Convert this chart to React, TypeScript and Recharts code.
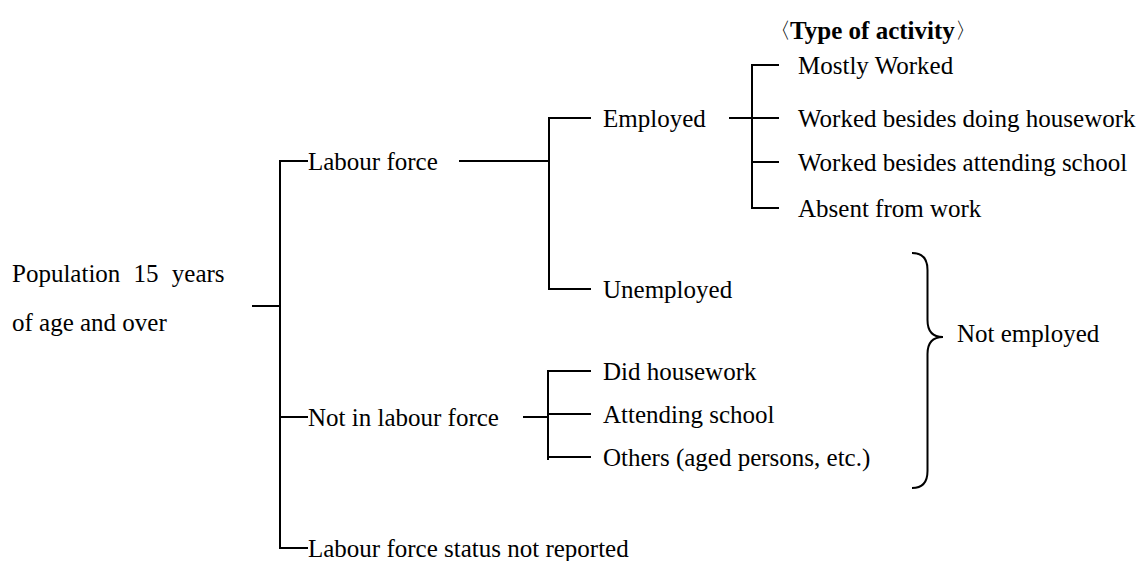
import { ScatterChart, Scatter, XAxis, YAxis, ReferenceLine } from 'recharts'

// labels
const ROOT_LINES = ['Population 15 years', 'of age and over']
const LEVEL1 = ['Labour force', 'Not in labour force', 'Labour force status not reported']
const LABOUR = ['Employed', 'Unemployed']
const NOT_LABOUR = ['Did housework', 'Attending school', 'Others (aged persons, etc.)']
const ACTIVITY = ['Mostly Worked', 'Worked besides doing housework', 'Worked besides attending school', 'Absent from work']
const ACTIVITY_TITLE = ['〈', 'Type of activity', '〉']
const NOT_EMPLOYED = 'Not employed'

// row positions (diagram units, top = 0)
const ROOT_ROWS = [273, 322]
const ROOT_JOIN = 306
const LEVEL1_ROWS = [161, 417, 548]
const LABOUR_ROWS = [118, 289]
const NOT_LABOUR_ROWS = [371, 414, 457]
const ACTIVITY_ROWS = [65, 118, 162, 208]
const TITLE_ROW = 30
const BRACE_ROWS = [253, 337, 488]

// column positions (diagram units, left = 0)
const COL = {
    rootText: 12,
    rootStub: 253,
    l1Bar: 280,
    l1Text: 308,
    labourJoin: 460,
    notLabourJoin: 524,
    l2Bar: 549,
    l2Stub: 590,
    l2Text: 603,
    employedJoin: 730,
    l3Bar: 752,
    l3Stub: 778,
    l3Text: 798,
    title: 790,
    braceEdge: 912,
    braceTip: 943,
    braceText: 957,
}

const W = 1147
const H = 561
const FONT = "'Liberation Serif', 'Times New Roman', serif"

type Pt = { x: number; y: number }
type Seg = [Pt, Pt]

const seg = (x1: number, y1: number, x2: number, y2: number): Seg => [{ x: x1, y: y1 }, { x: x2, y: y2 }]

const segments: Seg[] = [
    seg(COL.rootStub, ROOT_JOIN, COL.l1Bar, ROOT_JOIN),
    seg(COL.l1Bar, LEVEL1_ROWS[0], COL.l1Bar, LEVEL1_ROWS[2]),
    ...LEVEL1_ROWS.map(y => seg(COL.l1Bar, y, COL.l1Text - 1, y)),
    // labour force branch
    seg(COL.labourJoin, LEVEL1_ROWS[0], COL.l2Bar, LEVEL1_ROWS[0]),
    seg(COL.l2Bar, LABOUR_ROWS[0], COL.l2Bar, LABOUR_ROWS[1]),
    ...LABOUR_ROWS.map(y => seg(COL.l2Bar, y, COL.l2Stub, y)),
    // employed -> type of activity
    seg(COL.employedJoin, LABOUR_ROWS[0], COL.l3Bar, LABOUR_ROWS[0]),
    seg(COL.l3Bar, ACTIVITY_ROWS[0], COL.l3Bar, ACTIVITY_ROWS[3]),
    ...ACTIVITY_ROWS.map(y => seg(COL.l3Bar, y, COL.l3Stub, y)),
    // not in labour force branch
    seg(COL.notLabourJoin, LEVEL1_ROWS[1], COL.l2Bar - 1, LEVEL1_ROWS[1]),
    seg(COL.l2Bar - 1, NOT_LABOUR_ROWS[0], COL.l2Bar - 1, NOT_LABOUR_ROWS[2] + 2),
    ...NOT_LABOUR_ROWS.map(y => seg(COL.l2Bar - 1, y, COL.l2Stub, y)),
]

type Label = { x: number; y: number; label: string }

const labels: Label[] = [
    ...ROOT_LINES.map((label, i) => ({ x: COL.rootText, y: ROOT_ROWS[i], label })),
    ...LEVEL1.map((label, i) => ({ x: COL.l1Text, y: LEVEL1_ROWS[i], label })),
    ...LABOUR.map((label, i) => ({ x: COL.l2Text, y: LABOUR_ROWS[i], label })),
    ...NOT_LABOUR.map((label, i) => ({ x: COL.l2Text, y: NOT_LABOUR_ROWS[i], label })),
    ...ACTIVITY.map((label, i) => ({ x: COL.l3Text, y: ACTIVITY_ROWS[i], label })),
    { x: COL.braceText, y: BRACE_ROWS[1] - 4, label: NOT_EMPLOYED },
]

const titleData = [{ x: COL.title, y: TITLE_ROW }]

const braceData = [
    { x: COL.braceEdge, y: BRACE_ROWS[0] },
    { x: COL.braceTip, y: BRACE_ROWS[1] },
    { x: COL.braceEdge, y: BRACE_ROWS[2] },
]

const TextShape = (props: any) => {
    const { cx, cy, payload } = props
    const isRoot = payload.label === ROOT_LINES[0]
    return (
        <text
            x={cx}
            y={cy}
            dominantBaseline="central"
            fontSize={25}
            fill="#000"
            style={{ fontFamily: FONT, wordSpacing: isRoot ? 7 : 0 }}
        >
            {payload.label}
        </text>
    )
}

// bold heading; the CJK angle brackets sit half an em off their box
const TitleShape = (props: any) => {
    const { cx, cy } = props
    return (
        <text x={cx} y={cy} dominantBaseline="central" fontSize={25} fontWeight="bold" fill="#000" style={{ fontFamily: FONT }}>
            <tspan x={cx - 21} fontWeight="normal" fontSize={22}>{ACTIVITY_TITLE[0]}</tspan>
            <tspan x={cx}>{ACTIVITY_TITLE[1]}</tspan>
            <tspan fontWeight="normal" fontSize={22}>{ACTIVITY_TITLE[2]}</tspan>
        </text>
    )
}

const NoDot = () => <g />

// curly brace drawn from its top end, tip and bottom end
const BraceLine = (props: any) => {
    const pts = props.points as Pt[]
    if (!pts || pts.length < 3) return null
    const [top, tip, bottom] = pts
    const mid = (top.x + tip.x) / 2
    const r = 17
    const d = [
        `M${top.x},${top.y}`,
        `Q${mid},${top.y} ${mid},${top.y + r}`,
        `L${mid},${tip.y - r}`,
        `Q${mid},${tip.y} ${tip.x},${tip.y}`,
        `Q${mid},${tip.y} ${mid},${tip.y + r}`,
        `L${mid},${bottom.y - r}`,
        `Q${mid},${bottom.y} ${bottom.x},${bottom.y}`,
    ].join(' ')
    return <path d={d} fill="none" stroke="#000" strokeWidth={2} />
}

export default function App() {
    return (
        <div style={{ position: 'absolute', left: 0, top: 0, width: W, height: H, background: '#fff' }}>
            <ScatterChart width={W} height={H} margin={{ top: 0, right: 0, bottom: 0, left: 0 }}>
                <XAxis type="number" dataKey="x" domain={[0, W]} hide />
                <YAxis type="number" dataKey="y" domain={[0, H]} reversed hide />
                {segments.map((s, i) => (
                    <ReferenceLine key={`seg-${i}`} segment={s} stroke="#000" strokeWidth={2} strokeLinecap="square" ifOverflow="visible" />
                ))}
                <Scatter data={braceData} shape={NoDot} line={BraceLine} isAnimationActive={false} />
                <Scatter data={labels} shape={TextShape} isAnimationActive={false} />
                <Scatter data={titleData} shape={TitleShape} isAnimationActive={false} />
            </ScatterChart>
        </div>
    )
}
